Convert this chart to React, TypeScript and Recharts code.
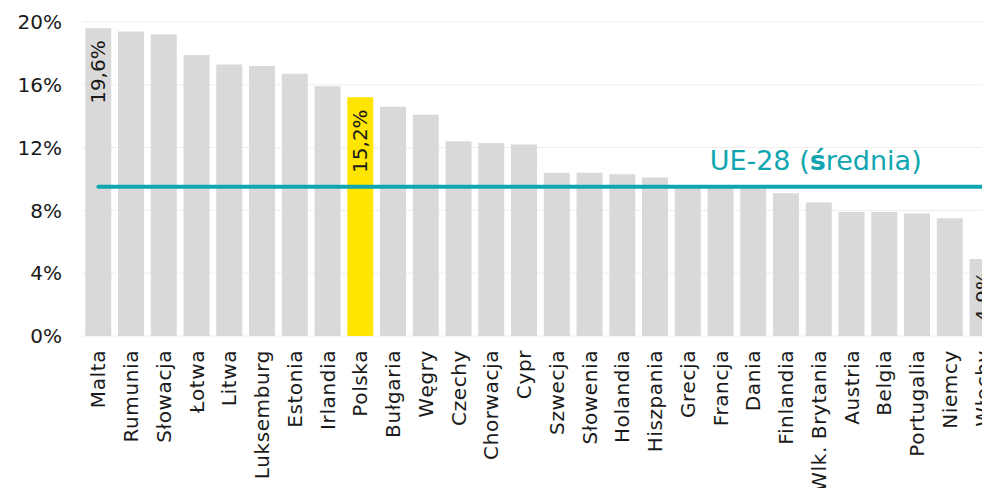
import { Bar, CartesianGrid, Cell, ComposedChart, LabelList, Line, ReferenceDot, XAxis, YAxis } from "recharts";

const countries = [
  "Malta", "Rumunia", "Słowacja", "Łotwa", "Litwa", "Luksemburg", "Estonia", "Irlandia", "Polska",
  "Bułgaria", "Węgry", "Czechy", "Chorwacja", "Cypr", "Szwecja", "Słowenia", "Holandia", "Hiszpania",
  "Grecja", "Francja", "Dania", "Finlandia", "Wlk. Brytania", "Austria", "Belgia", "Portugalia", "Niemcy", "Włochy",
];
const shares = [
  19.6, 19.4, 19.2, 17.9, 17.3, 17.2, 16.7, 15.9, 15.2,
  14.6, 14.1, 12.4, 12.3, 12.2, 10.4, 10.4, 10.3, 10.1,
  9.6, 9.5, 9.5, 9.1, 8.5, 7.9, 7.9, 7.8, 7.5, 4.9,
];
const euAverage = 9.5;
const labelled = ["Malta", "Polska", "Włochy"];
const highlighted = "Polska";
const yTicks = [0, 4, 8, 12, 16, 20];

const GRAY = "#d9d9d9";
const YELLOW = "#ffe500";
const TEAL = "#0fa6b1";
const FONT = "'DejaVu Sans', sans-serif";

const data = countries.map((name, i) => ({
  name,
  value: shares[i],
  avg: euAverage,
  label: labelled.includes(name) ? `${shares[i].toFixed(1).replace(".", ",")}%` : "",
}));

const edgeTicks = Array.from({ length: countries.length + 1 }, (_, i) => i);

const CountryTick = ({ x, y, payload }: any) => (
  <g transform={`translate(${x},${y})`}>
    <text
      transform="rotate(-90)"
      x={-14}
      y={0}
      dy="0.35em"
      textAnchor="end"
      fontSize={20}
      letterSpacing={0.6}
      fill="#1a1a1a"
      fontFamily={FONT}
    >
      {payload.value}
    </text>
  </g>
);

const BarValue = ({ x, y, width, value }: any) => {
  if (!value) return null;
  const cx = x + width / 2;
  const cy = y + 12;
  return (
    <text transform={`rotate(-90, ${cx}, ${cy})`} x={cx} y={cy} dy="0.35em" textAnchor="end" fontSize={20} fill="#1a1a1a" fontFamily={FONT}>
      {value}
    </text>
  );
};

const AverageLabel = ({ viewBox }: any) => (
  <text x={viewBox.x - 11} y={viewBox.y - 17} fontSize={27} fill={TEAL} fontFamily={FONT}>
    UE-28 (<tspan fontWeight="bold">ś</tspan>rednia)
  </text>
);

export default function App() {
  return (
    <div style={{ position: "fixed", left: 0, top: 0, width: 982, height: 488, overflow: "hidden", background: "#fff" }}>
      <ComposedChart width={999} height={488} data={data} margin={{ top: 22, right: 0, bottom: 0, left: 0 }} barCategoryGap="10%">
        <CartesianGrid vertical={false} stroke="#eeeeee" />
        <XAxis
          xAxisId="edges"
          type="number"
          domain={[0, countries.length]}
          ticks={edgeTicks}
          tick={false}
          height={0}
          tickSize={6}
          axisLine={{ stroke: "#000", strokeWidth: 1.5 }}
          tickLine={{ stroke: "#999" }}
          allowDataOverflow
        />
        <XAxis
          dataKey="name"
          interval={0}
          height={152}
          axisLine={false}
          tickLine={false}
          tickSize={0}
          tickMargin={0}
          tick={<CountryTick />}
        />
        <YAxis
          domain={[0, 20]}
          ticks={yTicks}
          width={82}
          axisLine={false}
          tickLine={false}
          tickSize={6}
          tickMargin={14}
          tickFormatter={(v) => `${v}%`}
          tick={{ fontSize: 20, fill: "#1a1a1a", fontFamily: FONT }}
        />
        <Bar dataKey="value" isAnimationActive={false}>
          {data.map((d) => (
            <Cell key={d.name} fill={d.name === highlighted ? YELLOW : GRAY} />
          ))}
          <LabelList dataKey="label" content={<BarValue />} />
        </Bar>
        <Line
          dataKey="avg"
          type="linear"
          stroke={TEAL}
          strokeWidth={4}
          strokeLinecap="round"
          dot={false}
          activeDot={false}
          isAnimationActive={false}
        />
        <ReferenceDot x="Francja" y={euAverage} r={0} fill="none" stroke="none" label={<AverageLabel />} />
      </ComposedChart>
    </div>
  );
}
